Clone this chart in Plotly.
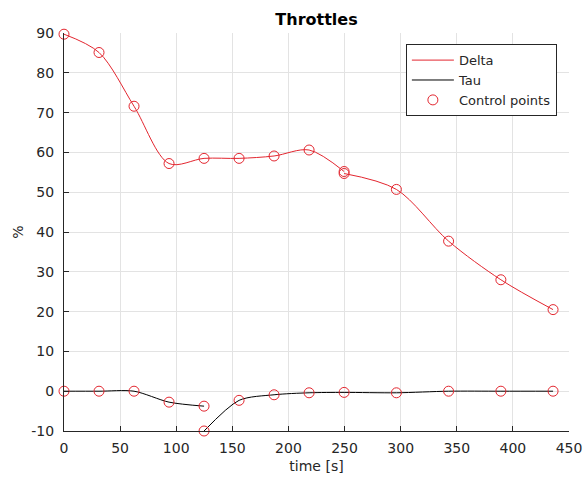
import plotly.graph_objects as go

# ---- data ----
time_s = [0, 31.2, 62.4, 93.6, 124.8, 156.0, 187.2, 218.4, 249.6, 296.2, 342.7, 389.3, 435.8]

# Delta: piece A covers time_s[0:9], piece B covers time_s[8:13]
delta_a = [89.7, 85.1, 71.6, 57.2, 58.5, 58.5, 59.1, 60.6, 55.2]
delta_b = [54.7, 50.7, 37.7, 28.0, 20.5]

# Tau: piece A covers time_s[0:5], piece B covers time_s[4:13]
tau_a = [0.0, 0.0, 0.0, -2.75, -3.76]
tau_b = [-10.0, -2.3, -0.9, -0.4, -0.3, -0.4, 0.0, 0.0, 0.0]

x_ticks = [0, 50, 100, 150, 200, 250, 300, 350, 400, 450]
y_ticks = [-10, 0, 10, 20, 30, 40, 50, 60, 70, 80, 90]
y_labels = ["-10", "0", "10", "20", "30", "40", "50", "60", "70", "80", "90"]

# ---- build traces ----
dx = time_s[0:9] + [None] + time_s[8:]
dy = delta_a + [None] + delta_b
tx = time_s[0:5] + [None] + time_s[4:]
ty = tau_a + [None] + tau_b

cp_x = time_s[0:9] + time_s[8:] + time_s[0:5] + time_s[4:]
cp_y = delta_a + delta_b + tau_a + tau_b

RED = "#e3262f"
TXT = "#262626"
FONT = "DejaVu Sans"

fig = go.Figure()
fig.add_trace(go.Scatter(x=dx, y=dy, mode="lines", name="Delta",
                         line=dict(color=RED, width=1, shape="spline", smoothing=0.9),
                         connectgaps=False))
fig.add_trace(go.Scatter(x=tx, y=ty, mode="lines", name="Tau",
                         line=dict(color="#000000", width=1, shape="spline", smoothing=0.8),
                         connectgaps=False))
fig.add_trace(go.Scatter(x=cp_x, y=cp_y, mode="markers", name="Control points",
                         cliponaxis=False,
                         marker=dict(symbol="circle-open", size=10, color=RED,
                                     line=dict(width=1, color=RED))))

fig.update_layout(
    width=584, height=480,
    margin=dict(l=64, r=15, t=33, b=49, autoexpand=False),
    paper_bgcolor="white", plot_bgcolor="white",
    font=dict(family=FONT, size=14, color=TXT),
    title=dict(text="<b>Throttles</b>", x=0.5, xref="paper", xanchor="center",
               y=1, yref="paper", yanchor="bottom", pad=dict(b=8),
               font=dict(family=FONT, size=16, color="#000000")),
    showlegend=True,
    legend=dict(x=0.976, y=0.972, xanchor="right", yanchor="top",
                bgcolor="white", bordercolor="#262626", borderwidth=1,
                font=dict(family=FONT, size=13, color=TXT),
                tracegroupgap=0, itemwidth=42),
)
fig.update_xaxes(range=[0, 450], tickvals=x_ticks, showgrid=True, gridcolor="#e3e3e3",
                 gridwidth=1, zeroline=False, showline=True, linecolor=TXT, linewidth=1,
                 ticks="inside", ticklen=5, tickcolor=TXT, mirror=False,
                 ticklabelstandoff=4,
                 title=dict(text="time [s]", standoff=6, font=dict(size=14, color=TXT)))
fig.update_yaxes(range=[-10, 90], tickvals=y_ticks, ticktext=y_labels, showgrid=True,
                 gridcolor="#e3e3e3", gridwidth=1, zeroline=False, showline=True,
                 linecolor=TXT, linewidth=1, ticks="inside", ticklen=5, tickcolor=TXT,
                 mirror=False, ticklabelstandoff=6,
                 title=dict(text="%", standoff=4, font=dict(size=14, color=TXT)))

fig.write_html("out.html")
